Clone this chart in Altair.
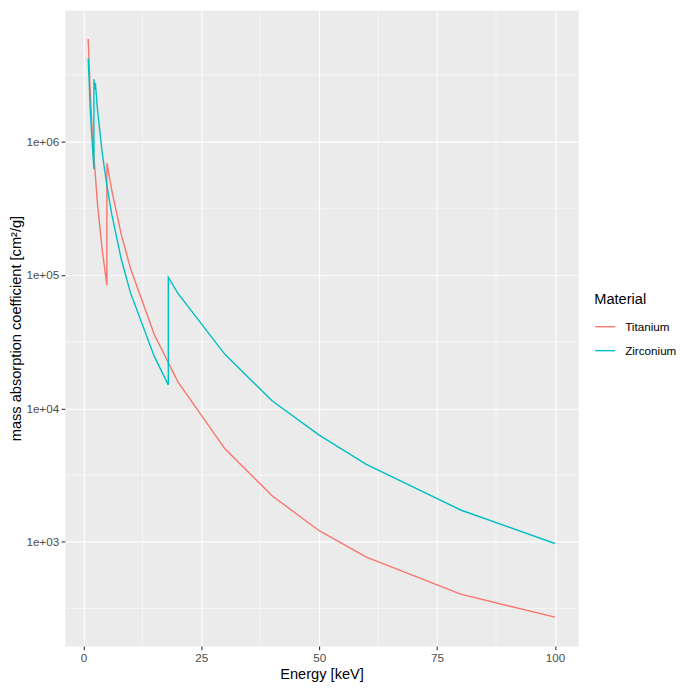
import altair as alt
import pandas as pd
import math

# ---- data (mass absorption coefficient, cm²/g) ----
ti_energy = [1.0, 1.5, 2.0, 3.0, 4.0, 4.966, 4.966, 5.0, 6.0, 8.0, 10.0, 15.0,
             20.0, 30.0, 40.0, 50.0, 60.0, 80.0, 100.0]
ti_mu = [5.87e6, 2.10e6, 9.86e5, 3.32e5, 1.52e5, 8.38e4, 6.88e5, 6.84e5, 4.32e5,
         2.02e5, 1.11e5, 3.59e4, 1.585e4, 4.97e3, 2.21e3, 1.21e3, 7.66e2, 4.05e2, 2.72e2]

zr_energy = [1.0, 1.5, 2.0, 2.2223, 2.2223, 2.3067, 2.3067, 2.5316, 2.5316, 3.0,
             4.0, 5.0, 6.0, 8.0, 10.0, 15.0, 17.998, 17.998, 20.0, 30.0, 40.0,
             50.0, 60.0, 80.0, 100.0]
zr_mu = [4.21e6, 1.57e6, 8.2e5, 6.2e5, 2.93e6, 2.65e6, 2.78e6, 2.45e6, 2.73e6, 1.70e6,
         8.1e5, 4.6e5, 2.85e5, 1.32e5, 7.3e4, 2.46e4, 1.50e4, 9.6e4, 7.3e4, 2.54e4, 1.14e4,
         6.3e3, 3.8e3, 1.73e3, 9.7e2]

materials = ["Titanium", "Zirconium"]
palette = ["#F8766D", "#00BFC4"]

x_ticks = [0, 25, 50, 75, 100]
x_minor = [12.5, 37.5, 62.5, 87.5]
y_ticks = [1e3, 1e4, 1e5, 1e6]
y_minor = [10 ** 2.5, 10 ** 3.5, 10 ** 4.5, 10 ** 5.5, 10 ** 6.5]

# ---- build tables ----
rows = []
for mat, es, ms in [("Titanium", ti_energy, ti_mu), ("Zirconium", zr_energy, zr_mu)]:
    for i, (e, m) in enumerate(zip(es, ms)):
        rows.append({"Energy": e, "mu": m, "Material": mat, "idx": i})
df = pd.DataFrame(rows)

# ggplot-like 5% expansion
all_e = ti_energy + zr_energy
all_m = ti_mu + zr_mu
e_lo, e_hi = min(all_e), max(all_e)
e_pad = 0.05 * (e_hi - e_lo)
x_dom = [e_lo - e_pad, e_hi + e_pad]
l_lo, l_hi = math.log10(min(all_m)), math.log10(max(all_m))
l_pad = 0.05 * (l_hi - l_lo)
y_dom = [10 ** (l_lo - l_pad), 10 ** (l_hi + l_pad)]

x_scale = alt.Scale(domain=x_dom, nice=False, zero=False)
y_scale = alt.Scale(type="log", domain=y_dom, nice=False)

x_axis = alt.Axis(values=x_ticks, title="Energy [keV]")
y_axis = alt.Axis(values=y_ticks, title="mass absorption coefficient [cm²/g]",
                  labelExpr="'1e+0' + format(log(datum.value)/LN10, '.0f')")

xminor = alt.Chart(pd.DataFrame({"Energy": x_minor})).mark_rule(
    color="white", strokeWidth=0.55
).encode(x=alt.X("Energy:Q", scale=x_scale, axis=x_axis))

yminor = alt.Chart(pd.DataFrame({"mu": y_minor})).mark_rule(
    color="white", strokeWidth=0.55
).encode(y=alt.Y("mu:Q", scale=y_scale, axis=y_axis))

lines = alt.Chart(df).mark_line(strokeWidth=1.4).encode(
    x=alt.X("Energy:Q", scale=x_scale, axis=x_axis),
    y=alt.Y("mu:Q", scale=y_scale, axis=y_axis),
    color=alt.Color("Material:N",
                    scale=alt.Scale(domain=materials, range=palette),
                    legend=alt.Legend(title="Material", orient="none",
                                      legendX=531, legendY=283)),
    order="idx:Q",
)

chart = alt.layer(xminor, yminor, lines).properties(
    width=515, height=638, padding={"left": 0, "top": 0, "right": 0, "bottom": 0}
).configure_view(
    fill="#EBEBEB", stroke="transparent"
).configure_axis(
    domain=False,
    grid=True,
    gridColor="white",
    gridWidth=1.1,
    tickColor="#333333",
    tickSize=3.7,
    tickWidth=1.1,
    labelFont="Liberation Sans",
    labelFontSize=11.7,
    labelColor="#4D4D4D",
    labelPadding=2.5,
    titleFont="Liberation Sans",
    titleFontSize=14.67,
    titleFontWeight="normal",
    titleColor="black",
).configure_axisX(
    titlePadding=3,
).configure_axisY(
    titlePadding=2,
).configure_legend(
    titleFont="Liberation Sans",
    titleFontSize=14.67,
    titleFontWeight="normal",
    titleColor="black",
    titlePadding=9,
    labelFont="Liberation Sans",
    labelFontSize=11.7,
    labelColor="black",
    labelOffset=9,
    symbolType="stroke",
    symbolSize=400,
    symbolStrokeWidth=1.4,
    rowPadding=6,
    padding=0,
)

chart.save("out.html", embed_options={"renderer": "svg", "actions": False})
